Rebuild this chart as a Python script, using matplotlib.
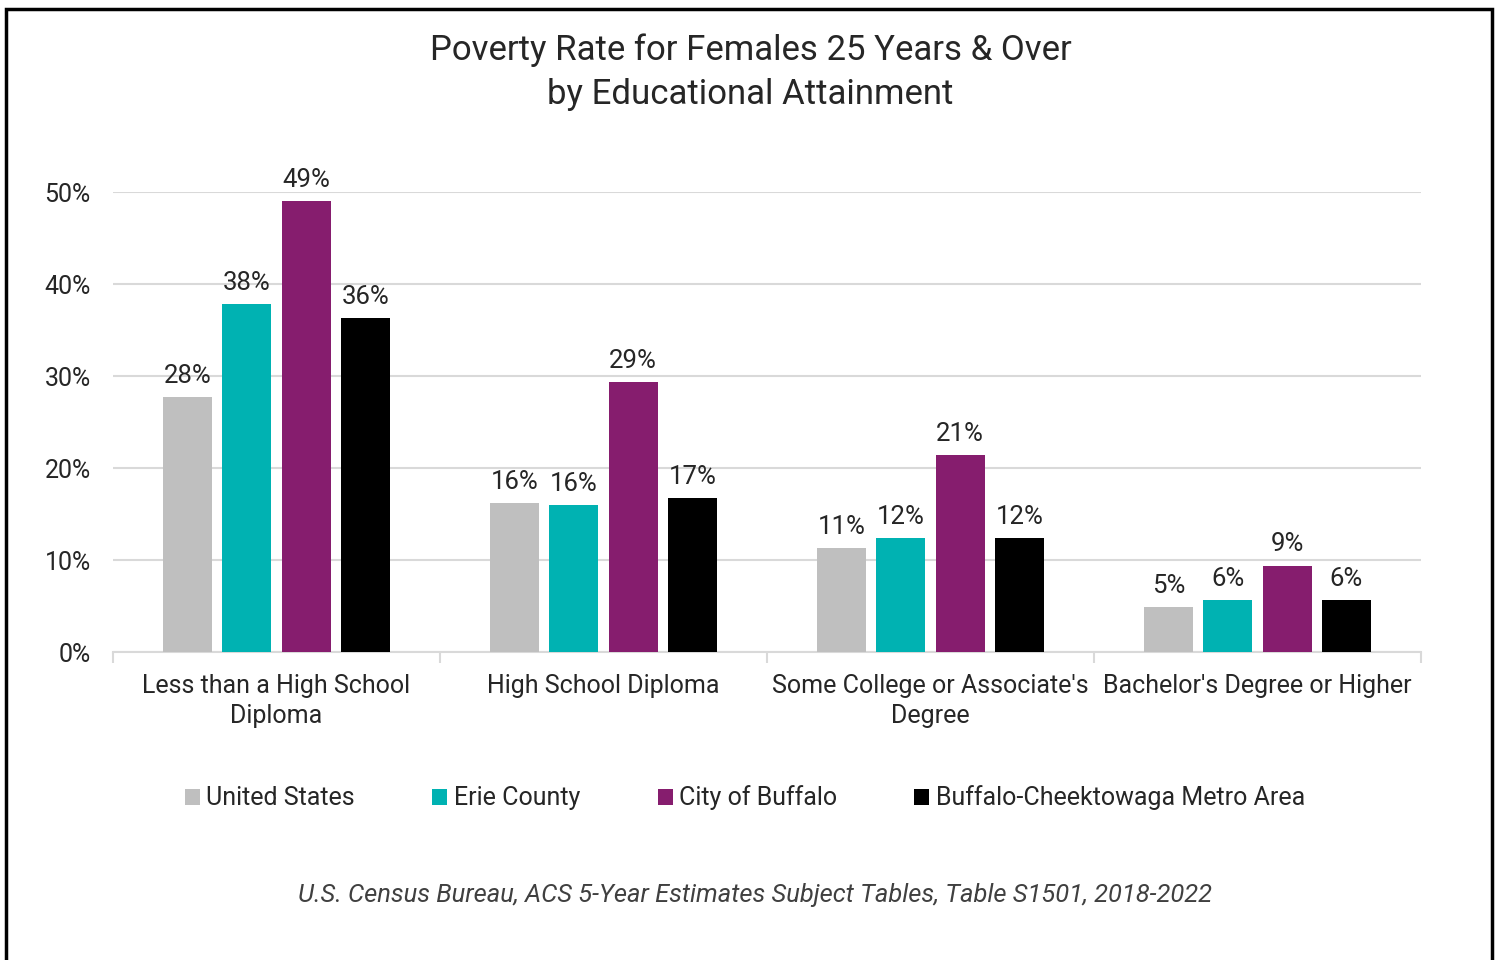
import matplotlib.pyplot as plt
from matplotlib.patches import Rectangle
import numpy as np

plt.rcParams['font.family'] = ['Roboto', 'DejaVu Sans']

categories = ["Less than a High School\nDiploma", "High School Diploma",
              "Some College or Associate's\nDegree", "Bachelor's Degree or Higher"]
series = ["United States", "Erie County", "City of Buffalo", "Buffalo-Cheektowaga Metro Area"]
united_states = [27.7, 16.2, 11.3, 4.9]
erie_county = [37.8, 16.0, 12.4, 5.6]
city_of_buffalo = [49.0, 29.3, 21.4, 9.4]
metro_area = [36.3, 16.7, 12.4, 5.6]
values = [united_states, erie_county, city_of_buffalo, metro_area]
colors = ["#bfbfbf", "#00b2b2", "#861d6e", "#000000"]

fig = plt.figure(figsize=(15.01, 9.6), dpi=100)
ax = fig.add_axes([113/1501, 1-652/960, 1308/1501, 460/960])

x = np.arange(len(categories))
pitch = 0.181
width = 0.15
text_c = "#262626"
for i, (name, vals, c) in enumerate(zip(series, values, colors)):
    pos = x + (i - 1.5) * pitch
    bars = ax.bar(pos, vals, width, color=c, label=name, zorder=3)
    for b, v in zip(bars, vals):
        ax.text(b.get_x() + b.get_width()/2, v + 1.0, f"{v:.0f}%", ha="center", va="bottom",
                fontsize=18.5, color=text_c, clip_on=False)

ax.set_xlim(-0.5, len(categories) - 0.5)
ax.set_ylim(0, 50)
ax.set_yticks(range(0, 51, 10))
ax.set_yticklabels([f"{t}%" for t in range(0, 51, 10)], fontsize=18, color=text_c)
ax.yaxis.grid(True, color="#d9d9d9", linewidth=1.5, zorder=0)
ax.tick_params(axis="y", length=0, pad=16)
ax.set_xticks(x)
ax.set_xticklabels(categories, fontsize=18, color=text_c, linespacing=1.3)
ax.set_xticks(np.arange(-0.5, len(categories), 1), minor=True)
ax.tick_params(axis="x", which="major", length=0, pad=16)
ax.tick_params(axis="x", which="minor", length=8, color="#d9d9d9", width=1.5)
for s in ["top", "right", "left"]:
    ax.spines[s].set_visible(False)
ax.spines["bottom"].set_color("#d9d9d9")
ax.spines["bottom"].set_linewidth(1.5)

fig.text(0.5, 1-72/960, "Poverty Rate for Females 25 Years & Over\nby Educational Attainment",
         ha="center", va="center", fontsize=25, color=text_c, linespacing=1.4)

handles, labels = ax.get_legend_handles_labels()
fig.legend(handles, labels, loc="center", bbox_to_anchor=(745/1501, 1-798/960), ncol=4,
           frameon=False, fontsize=18, handlelength=0.6, handleheight=0.6,
           handletextpad=0.25, columnspacing=3.1, labelcolor=text_c)

fig.text(755/1501, 1-895/960,
         "U.S. Census Bureau, ACS 5-Year Estimates Subject Tables, Table S1501, 2018-2022",
         ha="center", va="center", fontsize=18.4, style="italic", color="#404040")

fig.patches.append(Rectangle((6/1501, -0.05), 1486/1501, 1.05 - 9/960, transform=fig.transFigure,
                             fill=False, edgecolor="black", linewidth=2.5))

fig.savefig("out.png", dpi=100)
